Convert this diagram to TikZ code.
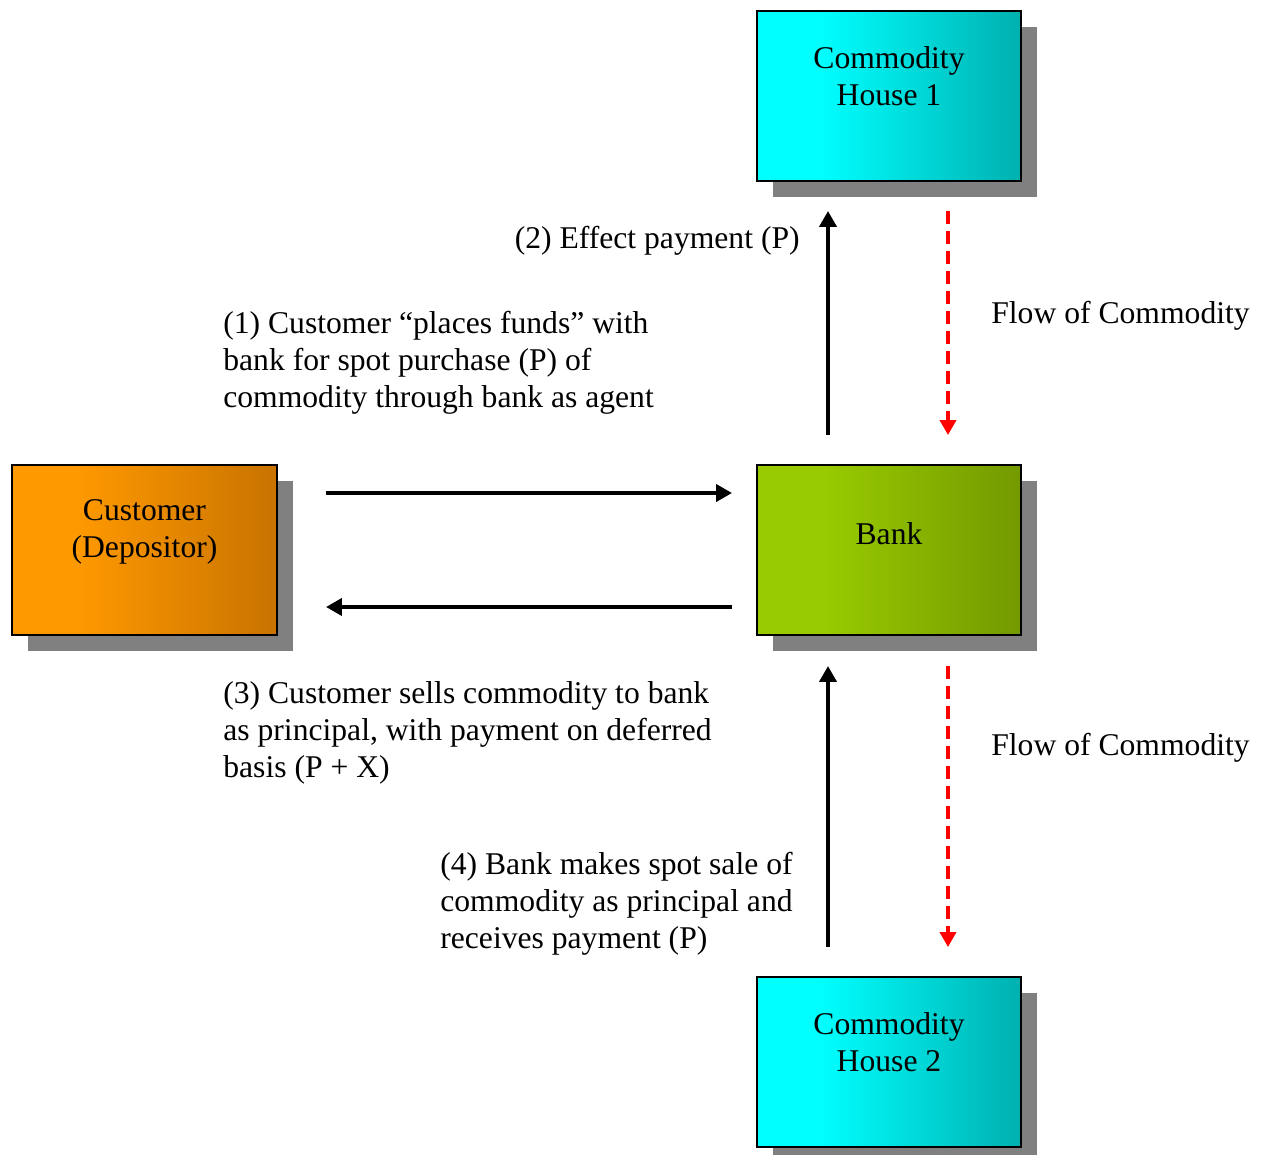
\documentclass[tikz,border=0pt]{standalone}
\usepackage{fontspec}
\setmainfont{Liberation Serif}
\usetikzlibrary{arrows.meta,shadows}

\definecolor{houseL}{RGB}{0,255,255}
\definecolor{houseR}{RGB}{0,176,176}
\definecolor{custL}{RGB}{255,153,0}
\definecolor{custR}{RGB}{200,115,0}
\definecolor{bankL}{RGB}{153,204,0}
\definecolor{bankR}{RGB}{115,153,0}

\pgfdeclarehorizontalshading{houseshade}{100bp}{color(0bp)=(houseL); color(37bp)=(houseL); color(75bp)=(houseR); color(100bp)=(houseR)}
\pgfdeclarehorizontalshading{custshade}{100bp}{color(0bp)=(custL); color(37bp)=(custL); color(75bp)=(custR); color(100bp)=(custR)}
\pgfdeclarehorizontalshading{bankshade}{100bp}{color(0bp)=(bankL); color(37bp)=(bankL); color(75bp)=(bankR); color(100bp)=(bankR)}

\tikzset{
  box/.style={draw=black, line width=1.1pt, minimum width=5.28cm, minimum height=3.4cm,
    inner sep=0pt, drop shadow={shadow xshift=0.32cm, shadow yshift=-0.32cm, fill=black!50, opacity=1}},
  boxtext/.style={align=center, inner sep=0pt},
  note/.style={align=left, inner sep=0pt},
  pay/.style={line width=2.2pt, -{Triangle[length=0.32cm, width=0.34cm]}},
  goods/.style={red, line width=2pt, dash pattern=on 0.26cm off 0.14cm, -{Triangle[length=0.3cm, width=0.32cm]}}
}

\begin{document}
\begin{tikzpicture}[font=\fontsize{18}{21}\selectfont]
    \useasboundingbox (0,0) rectangle (25.4,-23.1);
    % boxes
    \node[box, shading=houseshade] (ch1) at (17.78,-1.92) {};
    \node[box, shading=bankshade] (bank) at (17.78,-11.0) {};
    \node[box, shading=custshade, minimum width=5.3cm] (cust) at (2.89,-11.0) {};
    \node[box, shading=houseshade] (ch2) at (17.78,-21.24) {};
    \node[boxtext] (ch1txt) at ([yshift=0.39cm]ch1.center) {Commodity\\House 1};
    \node[boxtext] (banktxt) at ([yshift=0.33cm]bank.center) {Bank};
    \node[boxtext] (custtxt) at ([yshift=0.37cm]cust.center) {Customer\\(Depositor)};
    \node[boxtext] (ch2txt) at ([yshift=0.39cm]ch2.center) {Commodity\\House 2};
    % customer <-> bank
    \draw[pay] ([xshift=0.96cm, yshift=1.14cm]cust.east) -- ([xshift=-0.48cm, yshift=1.14cm]bank.west);
    \draw[pay] ([xshift=-0.48cm, yshift=-1.14cm]bank.west) -- ([xshift=0.96cm, yshift=-1.14cm]cust.east);
    % bank <-> commodity houses
    \draw[pay] ([xshift=-1.22cm, yshift=0.58cm]bank.north) -- ([xshift=-1.22cm, yshift=-0.58cm]ch1.south);
    \draw[goods] ([xshift=1.18cm, yshift=-0.58cm]ch1.south) -- ([xshift=1.18cm, yshift=0.58cm]bank.north);
    \draw[pay] ([xshift=-1.22cm, yshift=0.58cm]ch2.north) -- ([xshift=-1.22cm, yshift=-0.6cm]bank.south);
    \draw[goods] ([xshift=1.18cm, yshift=-0.6cm]bank.south) -- ([xshift=1.18cm, yshift=0.58cm]ch2.north);
    % labels
    \node[note, anchor=east] (lbl2) at (16.0,-4.82) {(2) Effect payment (P)};
    \node[note, anchor=west] (lbl1) at (4.46,-7.26) {(1) Customer “places funds” with\\bank for spot purchase (P) of\\commodity through bank as agent};
    \node[note, anchor=west] (flow1) at (19.82,-6.32) {Flow of Commodity};
    \node[note, anchor=west] (lbl3) at (4.46,-14.66) {(3) Customer sells commodity to bank\\as principal, with payment on deferred\\basis (P + X)};
    \node[note, anchor=west] (flow2) at (19.82,-14.96) {Flow of Commodity};
    \node[note, anchor=west] (lbl4) at (8.8,-18.08) {(4) Bank makes spot sale of\\commodity as principal and\\receives payment (P)};
\end{tikzpicture}
\end{document}
